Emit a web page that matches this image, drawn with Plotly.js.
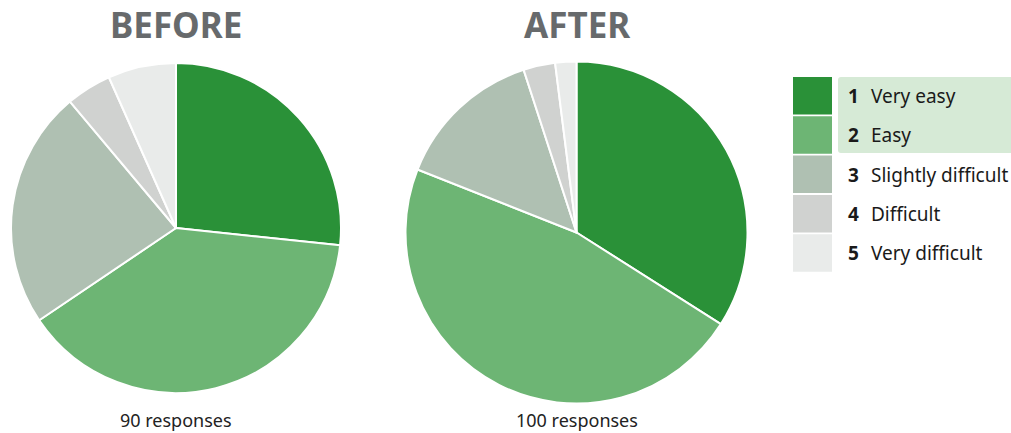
<!DOCTYPE html>
<html>
<head>
<meta charset="utf-8">
<script src="https://cdn.plot.ly/plotly-3.0.1.min.js"></script>
<style>
  html, body { margin: 0; padding: 0; background: #ffffff; }
  #chart { width: 1011px; height: 433px; }
</style>
</head>
<body>
<div id="chart"></div>
<script>
// Survey answers: how easy was it, before and after the change
const categories = ["Very easy", "Easy", "Slightly difficult", "Difficult", "Very difficult"];
const ranks = ["1", "2", "3", "4", "5"];
const beforeValues = [24, 35, 21, 4, 6];
const afterValues = [34, 47, 14, 3, 2];
const panelTitles = ["BEFORE", "AFTER"];
const responseNotes = ["90 responses", "100 responses"];
const sliceColors = ["#2a9138", "#6db574", "#afc0b2", "#d0d2d0", "#e9ebea"];

const W = 1011, H = 433;
const px = x => x / W;
const py = y => 1 - y / H;

function pieTrace(values, cx, cy, r) {
  return {
    type: "pie",
    labels: categories,
    values: values,
    sort: false,
    direction: "clockwise",
    rotation: 0,
    textinfo: "none",
    hoverinfo: "label+value+percent",
    marker: { colors: sliceColors, line: { color: "#ffffff", width: 2 } },
    domain: { x: [px(cx - r), px(cx + r)], y: [py(cy + r), py(cy - r)] },
    showlegend: false
  };
}

const data = [
  pieTrace(beforeValues, 176, 228, 165),
  pieTrace(afterValues, 576.5, 232.5, 171)
];

const font = "'Noto Sans', 'Open Sans', sans-serif";
const annotations = [];
const shapes = [];

// panel headings and response counts
const panelX = [176, 577];
panelTitles.forEach((t, i) => {
  annotations.push({
    xref: "paper", yref: "paper", x: px(panelX[i]), y: py(25),
    xanchor: "center", yanchor: "middle", showarrow: false,
    text: "<b>" + t + "</b>",
    font: { family: font, size: 35, color: "#676a6c" }
  });
  annotations.push({
    xref: "paper", yref: "paper", x: px(panelX[i]), y: py(420),
    xanchor: "center", yanchor: "middle", showarrow: false,
    borderpad: 0,
    text: responseNotes[i],
    font: { family: font, size: 18, color: "#222222" }
  });
});

// key: highlight band behind the two easiest answers
const hx0 = px(838), hx1 = px(1011), hy0 = py(77), hy1 = py(153);
shapes.push({
  type: "path", xref: "paper", yref: "paper",
  path: `M ${px(841)} ${hy0} L ${hx1} ${hy0} L ${hx1} ${hy1} L ${px(841)} ${hy1} Q ${hx0} ${hy1} ${hx0} ${py(150)} L ${hx0} ${py(80)} Q ${hx0} ${hy0} ${px(841)} ${hy0} Z`,
  fillcolor: "#d6ead6", line: { width: 0 }, layer: "below"
});

// key: colour swatches and labels
categories.forEach((c, i) => {
  const top = 77 + 39.3 * i;
  shapes.push({
    type: "rect", xref: "paper", yref: "paper",
    x0: px(793), x1: px(832), y0: py(top), y1: py(top + 37.5),
    fillcolor: sliceColors[i], line: { width: 0 }
  });
  annotations.push({
    xref: "paper", yref: "paper", x: px(846), y: py(top + 19),
    xanchor: "left", yanchor: "middle", showarrow: false,
    text: "<b>" + ranks[i] + "</b>",
    font: { family: font, size: 19, color: "#1a1a1a" }
  });
  annotations.push({
    xref: "paper", yref: "paper", x: px(869), y: py(top + 19),
    xanchor: "left", yanchor: "middle", showarrow: false,
    text: c,
    font: { family: font, size: 19, color: "#1a1a1a" }
  });
});

const layout = {
  width: W, height: H,
  margin: { l: 0, r: 0, t: 0, b: 0 },
  paper_bgcolor: "#ffffff",
  plot_bgcolor: "#ffffff",
  showlegend: false,
  annotations: annotations,
  shapes: shapes
};

Plotly.newPlot("chart", data, layout, { displayModeBar: false, staticPlot: true });
</script>
</body>
</html>
